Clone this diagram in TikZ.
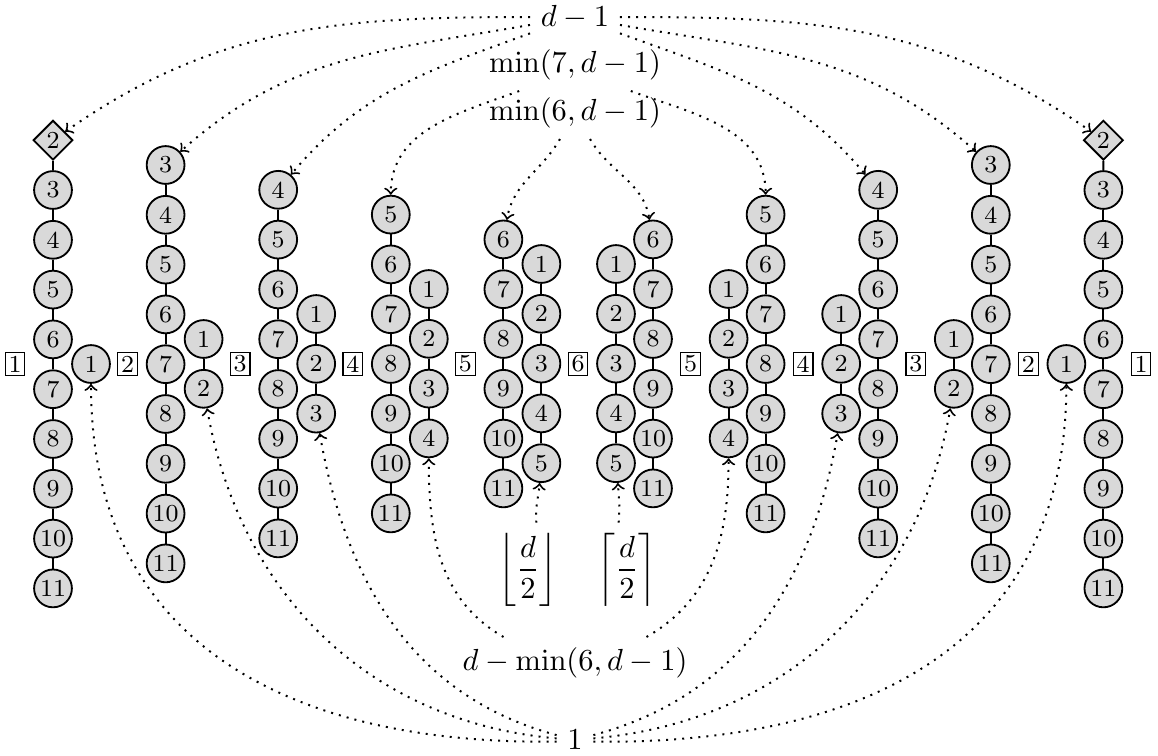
\documentclass[tikz,border=0pt]{standalone}
\usetikzlibrary{shapes.geometric}
\begin{document}
\begin{tikzpicture}[x=0.3279pt,y=-0.3279pt,
  vtx/.style={circle,draw,fill=black!15,line width=0.6pt,minimum size=12.4pt,inner sep=0pt,font=\footnotesize},
  dia/.style={diamond,draw,fill=black!15,line width=0.6pt,minimum size=13pt,inner sep=0pt,font=\footnotesize},
  boxlbl/.style={draw,rectangle,inner sep=1.1pt,line width=0.4pt,font=\footnotesize},
  chain/.style={line width=0.6pt},
  arr/.style={dotted,line width=0.65pt,->}]
\useasboundingbox (0,0) rectangle (1158,755);

% columns
\foreach \c in {1,...,5}{
  \pgfmathsetmacro{\bx}{15+112.6*(\c-1)}
  \pgfmathsetmacro{\rbx}{15+112.6*(11-\c)}
  \pgfmathsetmacro{\ty}{190-25*(\c-1)}
  \pgfmathsetmacro{\sy}{364-25*(\c-1)}
  \pgfmathtruncatemacro{\st}{max(3,\c+1)}
  \node[boxlbl] (LB\c) at (\bx,364) {\c};
  \node[boxlbl] (RB\c) at (\rbx,364) {\c};
  \foreach \v in {\st,...,11}{
    \node[vtx] (Lm\c-\v) at ({\bx+38},{\ty+49.8*(\v-3)}) {\v};
    \node[vtx] (Rm\c-\v) at ({\rbx-37.6},{\ty+49.8*(\v-3)}) {\v};
    \ifnum\v>\st
      \pgfmathtruncatemacro{\pv}{\v-1}
      \draw[chain] (Lm\c-\pv) -- (Lm\c-\v);
      \draw[chain] (Rm\c-\pv) -- (Rm\c-\v);
    \fi
  }
  \foreach \v in {1,...,\c}{
    \node[vtx] (Ls\c-\v) at ({\bx+76},{\sy+49.8*(\v-1)}) {\v};
    \node[vtx] (Rs\c-\v) at ({\rbx-74.6},{\sy+49.8*(\v-1)}) {\v};
    \ifnum\v>1
      \pgfmathtruncatemacro{\pv}{\v-1}
      \draw[chain] (Ls\c-\pv) -- (Ls\c-\v);
      \draw[chain] (Rs\c-\pv) -- (Rs\c-\v);
    \fi
  }
}
\node[boxlbl] (B6) at (578,364) {6};
\node[dia] (Lm1-2) at (53,140.2) {2};
\node[dia] (Rm1-2) at (1103.4,140.2) {2};
\draw[chain] (Lm1-2) -- (Lm1-3);
\draw[chain] (Rm1-2) -- (Rm1-3);

% labels
\node (dm1) at (575,17) {$d-1$};
\node (m7) at (575,65) {$\min(7,d-1)$};
\node (m6) at (575,113) {$\min(6,d-1)$};
\node (fl) at (528,570) {$\displaystyle\left\lfloor\frac{d}{2}\right\rfloor$};
\node (ce) at (627,570) {$\displaystyle\left\lceil\frac{d}{2}\right\rceil$};
\node (dm) at (575,663) {$d-\min(6,d-1)$};
\node (one) at (575,740) {$1$};

% top arrows
\draw[arr] (dm1.180) to[out=180,in=35] (Lm1-2);
\draw[arr] (dm1.190) to[out=190,in=42] (Lm2-3);
\draw[arr] (dm1.200) to[out=200,in=50] (Lm3-4);
\draw[arr] (m7.205) to[out=200,in=90] (Lm4-5);
\draw[arr] (m6.240) to[out=240,in=80] (Lm5-6);
\draw[arr] (dm1.0) to[out=0,in=145] (Rm1-2);
\draw[arr] (dm1.350) to[out=-10,in=138] (Rm2-3);
\draw[arr] (dm1.340) to[out=-20,in=130] (Rm3-4);
\draw[arr] (m7.335) to[out=-20,in=90] (Rm4-5);
\draw[arr] (m6.300) to[out=-60,in=100] (Rm5-6);

% bottom arrows
\draw[arr] (one.185) .. controls (300,745) and (91,650) .. (Ls1-1);
\draw[arr] (one.175) to[out=175,in=-80] (Ls2-2);
\draw[arr] (one.165) to[out=165,in=-80] (Ls3-3);
\draw[arr] (dm.160) to[out=150,in=-90] (Ls4-4);
\draw[arr] (fl.80) to[out=95,in=-95] (Ls5-5);
\draw[arr] (one.355) .. controls (857,745) and (1066,650) .. (Rs1-1);
\draw[arr] (one.5) to[out=5,in=-100] (Rs2-2);
\draw[arr] (one.15) to[out=15,in=-100] (Rs3-3);
\draw[arr] (dm.20) to[out=30,in=-90] (Rs4-4);
\draw[arr] (ce.100) to[out=85,in=-85] (Rs5-5);
\end{tikzpicture}
\end{document}
